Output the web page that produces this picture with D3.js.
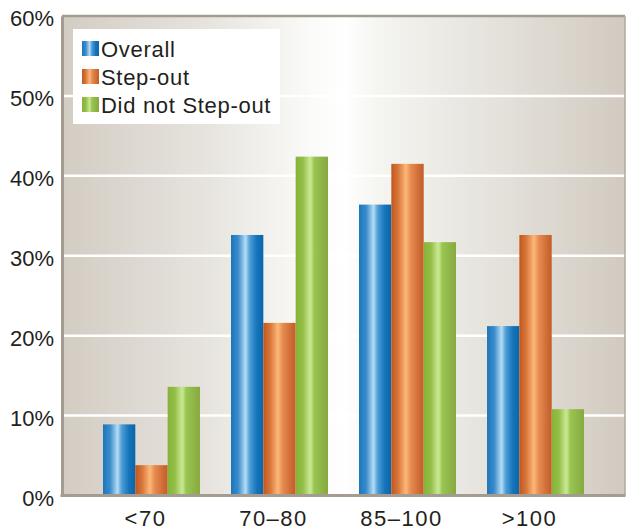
<!DOCTYPE html>
<html>
<head>
<meta charset="utf-8">
<script src="https://cdn.jsdelivr.net/npm/d3@7"></script>
<style>
  html, body { margin: 0; padding: 0; background: #fff; }
  svg { display: block; }
  text { font-family: "Liberation Sans", Arial, sans-serif; fill: #231f20; }
</style>
</head>
<body>
<svg id="chart" width="626" height="529"></svg>
<script>
// Share of cases in each range, by group (percent)
const categories = ["<70", "70\u201380", "85\u2013100", ">100"];
const seriesNames = ["Overall", "Step-out", "Did not Step-out"];
const overall = [8.9, 32.6, 36.4, 21.2];
const stepOut = [3.8, 21.6, 41.5, 32.6];
const didNotStepOut = [13.6, 42.4, 31.7, 10.8];
const yTicks = [0, 10, 20, 30, 40, 50, 60];

const seriesValues = [overall, stepOut, didNotStepOut];

const svg = d3.select("#chart");
const plotLeft = 62, plotRight = 625, plotTop = 16, plotBottom = 495.5;
const fontStack = "'Liberation Sans', Arial, sans-serif";

const x = d3.scaleBand().domain(categories).range([plotLeft, plotRight])
  .paddingInner(0.2422).paddingOuter(0.32);
const xs = d3.scaleBand().domain(seriesNames).range([0, x.bandwidth()]);
const y = d3.scaleLinear().domain([0, 60]).range([plotBottom, plotTop]);

const defs = svg.append("defs");

// Plot background: light sheen in the middle fading to warm grey at the edges
const bg = defs.append("linearGradient").attr("id", "bg")
  .attr("x1", "0").attr("x2", "1").attr("y1", "0").attr("y2", "0");
[[0, "#d3ccc3"], [0.25, "#e6e3dd"], [0.44, "#fafaf8"], [0.5, "#ffffff"],
 [0.56, "#f5f5f1"], [0.8, "#e2dfd8"], [1, "#d2cac0"]]
  .forEach(([o, c]) => bg.append("stop").attr("offset", o).attr("stop-color", c));

// Cylindrical shading for each series
const barStops = [
  [[0, "#1c76bb"], [0.22, "#3a8ccc"], [0.45, "#b4dcf5"], [0.58, "#4f9dd6"], [0.8, "#1574ba"], [1, "#0a66ab"]],
  [[0, "#c2561b"], [0.22, "#d9783c"], [0.45, "#fdb878"], [0.6, "#e58c52"], [0.82, "#d2703a"], [1, "#c25d26"]],
  [[0, "#88b23a"], [0.22, "#92bf46"], [0.45, "#cce894"], [0.58, "#98c552"], [0.82, "#8db545"], [1, "#88a845"]]
];
barStops.forEach((stops, i) => {
  const g = defs.append("linearGradient").attr("id", "bar" + i)
    .attr("x1", "0").attr("x2", "1").attr("y1", "0").attr("y2", "0");
  stops.forEach(([o, c]) => g.append("stop").attr("offset", o).attr("stop-color", c));
});

svg.append("rect").attr("x", plotLeft).attr("y", plotTop)
  .attr("width", plotRight - plotLeft).attr("height", plotBottom - plotTop)
  .attr("fill", "url(#bg)");

// Gridlines
svg.append("g").selectAll("line").data(yTicks.filter(t => t > 0 && t < 60)).join("line")
  .attr("x1", plotLeft).attr("x2", plotRight)
  .attr("y1", d => y(d)).attr("y2", d => y(d))
  .attr("stroke", "#ffffff").attr("stroke-width", 2.5);

// Bars
const groups = svg.append("g").selectAll("g").data(categories).join("g")
  .attr("transform", d => `translate(${x(d)},0)`);
groups.selectAll("rect")
  .data((c, ci) => seriesNames.map((s, si) => ({ s, si, v: seriesValues[si][ci] })))
  .join("rect")
  .attr("x", d => xs(d.s))
  .attr("width", xs.bandwidth())
  .attr("y", d => y(d.v))
  .attr("height", d => y(0) - y(d.v))
  .attr("fill", d => `url(#bar${d.si})`);

// Frame
svg.append("line").attr("x1", plotLeft).attr("x2", plotRight).attr("y1", plotTop).attr("y2", plotTop)
  .attr("stroke", "#a49b91").attr("stroke-width", 2.5);
svg.append("line").attr("x1", plotRight).attr("x2", plotRight).attr("y1", plotTop).attr("y2", plotBottom)
  .attr("stroke", "#b0a89f").attr("stroke-width", 1.5);

// Y axis
const yAxis = svg.append("g").attr("transform", `translate(${plotLeft},0)`)
  .call(d3.axisLeft(y).tickValues(yTicks).tickSize(0).tickPadding(8).tickFormat(d => d + "%"));
yAxis.select(".domain").attr("stroke", "#a49b91").attr("stroke-width", 3);
yAxis.selectAll("text").attr("font-size", 22).attr("dy", "0.45em").attr("fill", "#231f20")
  .style("font-family", fontStack);

// X axis
const xAxis = svg.append("g").attr("transform", `translate(0,${plotBottom})`)
  .call(d3.axisBottom(x).tickSize(0).tickPadding(15));
xAxis.select(".domain").attr("stroke", "#a49b91").attr("stroke-width", 3)
  .attr("d", `M${plotLeft - 1.5},0H${plotRight + 0.5}`);
xAxis.selectAll("text").attr("font-size", 22).attr("dx", -6)
  .attr("letter-spacing", 1.5).attr("fill", "#231f20")
  .style("font-family", fontStack);

// Legend
const legend = svg.append("g");
legend.append("rect").attr("x", 73).attr("y", 29).attr("width", 207).attr("height", 95)
  .attr("fill", "#ffffff");
const items = legend.selectAll("g").data(seriesNames).join("g")
  .attr("transform", (d, i) => `translate(82,${41 + i * 28})`);
items.append("rect").attr("width", 17).attr("height", 15)
  .attr("fill", (d, i) => `url(#bar${i})`);
items.append("text").attr("x", 19).attr("y", 15.5)
  .attr("font-size", 22).attr("letter-spacing", 0.7).text(d => d);
</script>
</body>
</html>
